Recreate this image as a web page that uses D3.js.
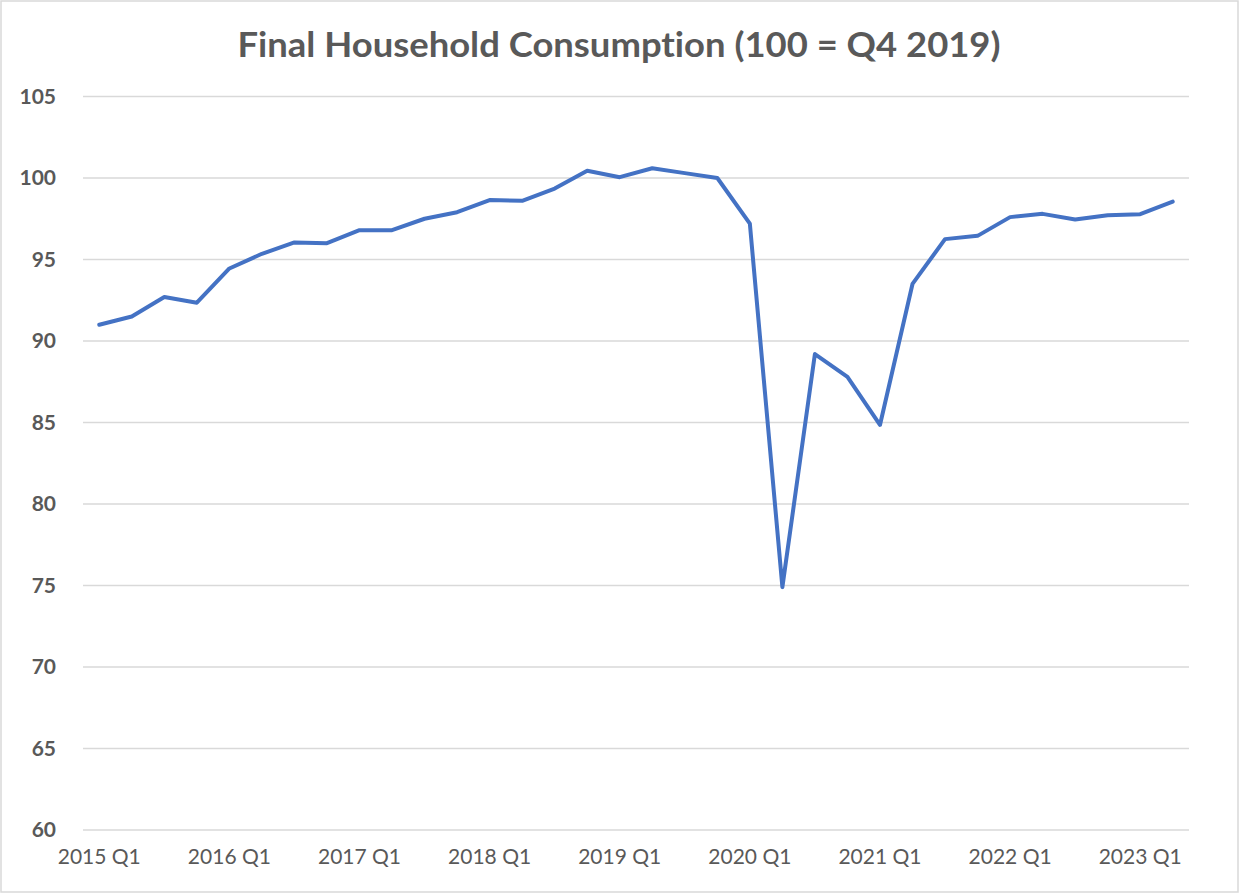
<!DOCTYPE html>
<html>
<head>
<meta charset="utf-8">
<script src="https://cdn.jsdelivr.net/npm/d3@7"></script>
<style>
  html, body { margin: 0; padding: 0; background: #fff; }
  svg { display: block; }
  text { font-variant-ligatures: none; }
</style>
</head>
<body>
<svg id="chart" width="1240" height="894"></svg>
<script>
const title = "Final Household Consumption (100 = Q4 2019)";
const years = [2015, 2016, 2017, 2018, 2019, 2020, 2021, 2022, 2023];
const quarters = [];
years.forEach(y => [1,2,3,4].forEach(q => quarters.push(y + " Q" + q)));
const categories = quarters.slice(0, 34); // 2015 Q1 .. 2023 Q2
const values = [
  91.0, 91.5, 92.7, 92.35,
  94.45, 95.35, 96.05, 96.0,
  96.8, 96.8, 97.5, 97.9,
  98.65, 98.6, 99.35, 100.45,
  100.05, 100.6, 100.3, 100.0,
  97.2, 74.9, 89.2, 87.8,
  84.85, 93.5, 96.25, 96.45,
  97.6, 97.8, 97.45, 97.72,
  97.78, 98.55
];
const yTicks = [60, 65, 70, 75, 80, 85, 90, 95, 100, 105];
const xLabels = categories.filter((c, i) => i % 4 === 0);

const svg = d3.select("#chart");
const W = 1240, H = 894;
const plot = { left: 83, right: 1189, top: 96.5, bottom: 830 };
const FONT = "Lato, 'Open Sans', sans-serif";

svg.append("rect").attr("x", 1).attr("y", 1).attr("width", W - 3).attr("height", H - 3)
  .attr("fill", "#fff").attr("stroke", "#d9d9d9").attr("stroke-width", 1.5);

const x = d3.scaleBand().domain(categories).range([plot.left, plot.right]);
const y = d3.scaleLinear().domain([60, 105]).range([plot.bottom, plot.top]);
const cx = c => x(c) + x.bandwidth() / 2;

// gridlines
svg.append("g").selectAll("line").data(yTicks).join("line")
  .attr("x1", plot.left).attr("x2", plot.right)
  .attr("y1", d => y(d)).attr("y2", d => y(d))
  .attr("stroke", "#d9d9d9").attr("stroke-width", 1.5);

// y axis labels
const yAxis = d3.axisLeft(y).tickValues(yTicks).tickSize(0).tickPadding(0);
const gy = svg.append("g").attr("transform", "translate(56,0)").call(yAxis);
gy.select(".domain").remove();
gy.selectAll("text").attr("font-family", FONT)
  .attr("font-size", 21).attr("font-weight", "bold").attr("fill", "#595959");

// x axis labels
const xAxis = d3.axisBottom(x).tickValues(xLabels).tickSize(0).tickPadding(0);
const gx = svg.append("g").attr("transform", "translate(0,849)").call(xAxis);
gx.select(".domain").remove();
gx.selectAll("text").attr("font-family", FONT)
  .attr("font-size", 21).attr("fill", "#595959");

// line
const line = d3.line().x((d, i) => cx(categories[i])).y(d => y(d));
svg.append("path").datum(values).attr("d", line)
  .attr("fill", "none").attr("stroke", "#4472C4").attr("stroke-width", 4)
  .attr("stroke-linejoin", "round").attr("stroke-linecap", "round");

// title
svg.append("text").attr("x", 619).attr("y", 57).attr("text-anchor", "middle")
  .attr("font-family", FONT).attr("font-weight", "bold")
  .attr("font-size", 34).attr("fill", "#595959")
  .attr("textLength", 763).attr("lengthAdjust", "spacingAndGlyphs")
  .text(title);
</script>
</body>
</html>
